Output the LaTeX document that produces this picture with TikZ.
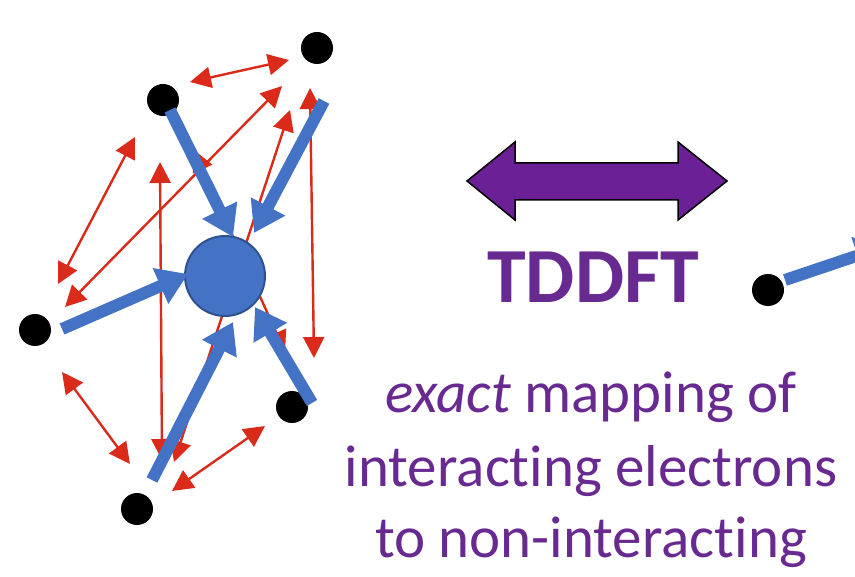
\documentclass[tikz,border=0pt]{standalone}
\usepackage{fontspec}
\setmainfont{Carlito}[Ligatures={NoCommon,NoContextual}]
\usetikzlibrary{arrows.meta}
\definecolor{eblue}{HTML}{4472C4}
\definecolor{eblueD}{HTML}{2F528F}
\definecolor{ered}{HTML}{DA2A1A}
\definecolor{epurp}{HTML}{6C2096}
\definecolor{tpurp}{HTML}{682A90}
\tikzset{
  electron/.style={circle,fill=black,minimum size=32pt,inner sep=0pt},
  core/.style={circle,fill=eblue,draw=eblueD,line width=2pt,minimum size=80pt,inner sep=0pt},
  redarr/.style={draw=ered,line width=2.4pt,{Triangle[length=21pt,width=21pt]}-{Triangle[length=21pt,width=21pt]}},
  bluearr/.style={draw=eblue,line width=12pt,-{Triangle[length=30pt,width=37pt]}},
  txt/.style={text=tpurp,anchor=base,inner sep=0pt,font=\fontsize{59}{62}\selectfont}
}
\begin{document}
\begin{tikzpicture}[x=1pt,y=-1pt]
\useasboundingbox (0,0) rectangle (855,577);
\clip (0,0) rectangle (855,577);
% red arrow end points
\coordinate (r1a) at (190,82);  \coordinate (r1b) at (289,60);
\coordinate (r2a) at (135,137); \coordinate (r2b) at (58,284);
\coordinate (r3a) at (282,86);  \coordinate (r3b) at (65,307);
\coordinate (r4a) at (160,162); \coordinate (r4b) at (162,460);
\coordinate (r5a) at (194,150); \coordinate (r5b) at (285,352);
\coordinate (r6a) at (290,110); \coordinate (r6b) at (174,462);
\coordinate (r7a) at (310,88);  \coordinate (r7b) at (314,358);
\coordinate (r8a) at (172,491); \coordinate (r8b) at (265,426);
\coordinate (r9a) at (62,372);  \coordinate (r9b) at (130,464);
\foreach \i in {1,...,9} { \draw[redarr] (r\i a) -- (r\i b); }
% electrons
\node[electron] (A) at (163,100) {};
\node[electron] (B) at (317,48) {};
\node[electron] (C) at (35,330) {};
\node[electron] (D) at (292,407) {};
\node[electron] (E) at (137,509) {};
\node[core] (ctr) at (225,276) {};
% blue arrows
\coordinate (bAs) at (170,110); \coordinate (bAt) at (233,237);
\coordinate (bBs) at (324,101); \coordinate (bBt) at (254,233);
\coordinate (bCs) at (62,329);  \coordinate (bCt) at (188,274);
\coordinate (bEs) at (152,480); \coordinate (bEt) at (233,322);
\coordinate (bDs) at (312,403); \coordinate (bDt) at (255,307);
\draw[bluearr] (bAs) -- (bAt);
\draw[bluearr] (bBs) -- (bBt);
\draw[bluearr] (bCs) -- (bCt);
\draw[bluearr] (bEs) -- (bEt);
\draw[bluearr] (bDs) -- (bDt);
% right electron
\node[electron] (R) at (768,290) {};
\coordinate (bRs) at (785,280); \coordinate (bRt) at (886,246);
\draw[bluearr] (bRs) -- (bRt);
% purple double arrow
\filldraw[fill=epurp,draw=black,line width=1.5pt]
  (467,181) -- (515,142) -- (515,163) -- (678,163) -- (678,142) -- (727,181)
  -- (678,220) -- (678,200) -- (515,200) -- (515,220) -- cycle;
% texts
\node[anchor=base,inner sep=0pt,text=tpurp,font=\fontsize{78}{80}\selectfont\bfseries] (T) at (593,303) {TDDFT};
\node[txt] (l1) at (591,413) {\textit{exact} mapping of};
\node[txt] (l2) at (591,487) {interacting electrons};
\node[txt] (l3) at (591,557) {to non-interacting};
\end{tikzpicture}
\end{document}
